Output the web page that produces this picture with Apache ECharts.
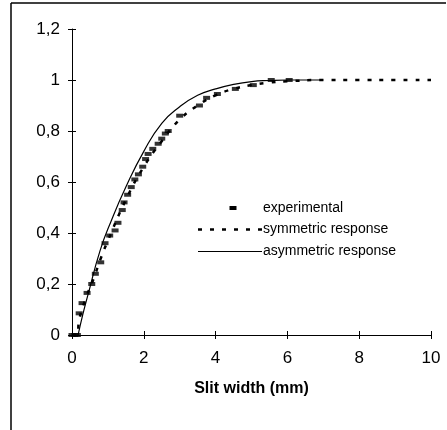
<!DOCTYPE html>
<html>
<head>
<meta charset="utf-8">
<script src="https://cdn.jsdelivr.net/npm/echarts@6/dist/echarts.min.js"></script>
<style>html,body{margin:0;padding:0;background:#fff;}#c{width:447px;height:430px;}</style>
</head>
<body>
<div id="c"></div>
<script>
var xTicks = [0, 2, 4, 6, 8, 10];
var yTicks = [0, 0.2, 0.4, 0.6, 0.8, 1, 1.2];

var experimental = [
  [0, 0], [0.08, 0], [0.15, 0], [0.2, 0.085], [0.28, 0.125], [0.42, 0.165], [0.55, 0.2],
  [0.65, 0.24], [0.8, 0.285], [0.92, 0.36], [1.05, 0.39], [1.2, 0.41], [1.28, 0.44],
  [1.4, 0.49], [1.45, 0.52], [1.55, 0.55], [1.65, 0.58], [1.75, 0.61], [1.85, 0.63],
  [1.97, 0.66], [2.05, 0.69], [2.12, 0.71], [2.25, 0.73], [2.4, 0.75], [2.5, 0.77],
  [2.6, 0.79], [2.68, 0.8], [3.0, 0.86], [3.55, 0.9], [3.75, 0.93], [4.05, 0.945],
  [4.55, 0.965], [5.05, 0.98], [5.55, 1.0], [6.05, 1.0]
];

var symmetric = [
  [0, 0], [0.15, 0], [0.2, 0.06], [0.4, 0.15], [0.6, 0.22], [0.8, 0.3], [1.0, 0.37],
  [1.5, 0.53], [2.0, 0.66], [2.5, 0.76], [3.0, 0.845], [3.5, 0.9], [4.0, 0.94],
  [4.5, 0.965], [5.0, 0.98], [5.5, 0.99], [6.0, 0.995], [7, 1], [8, 1], [9, 1], [10, 1]
];

var asymmetric = [
  [0.17, 0], [0.3, 0.08], [0.45, 0.16], [0.78, 0.33], [1.1, 0.45], [1.5, 0.58],
  [2.0, 0.72], [2.5, 0.83], [3.0, 0.895], [3.5, 0.94], [4.0, 0.965], [4.5, 0.983],
  [5.0, 0.994], [5.5, 0.998], [6, 1], [7, 1]
];

var legendNames = ['experimental', 'symmetric response', 'asymmetric response'];

var FONT = '"Liberation Sans", Arial, sans-serif';
var chart = echarts.init(document.getElementById('c'), null, {renderer: 'canvas'});

function fmtY(v) { return String(Math.round(v * 10) / 10).replace('.', ','); }

var option = {
  animation: false,
  backgroundColor: '#fff',
  grid: {left: 72, right: 16, top: 29, bottom: 95, containLabel: false},
  xAxis: [
    {
      type: 'value', min: xTicks[0], max: xTicks[xTicks.length - 1], interval: 2,
      name: 'Slit width (mm)', nameLocation: 'middle', nameGap: 46,
      nameTextStyle: {fontFamily: FONT, fontSize: 16, fontWeight: 'bold', color: '#000'},
      axisLine: {show: true, lineStyle: {color: '#000', width: 1}},
      axisTick: {show: true, inside: false, length: 4, lineStyle: {color: '#000'}},
      axisLabel: {fontFamily: FONT, fontSize: 17, color: '#000', margin: 15},
      splitLine: {show: false}
    },
    {
      type: 'value', min: xTicks[0], max: xTicks[xTicks.length - 1], interval: 2,
      position: 'bottom', gridIndex: 0,
      axisLine: {show: false},
      axisTick: {show: true, inside: true, length: 4, lineStyle: {color: '#000'}},
      axisLabel: {show: false}, splitLine: {show: false}
    }
  ],
  yAxis: [
    {
      type: 'value', min: yTicks[0], max: yTicks[yTicks.length - 1], interval: 0.2,
      axisLine: {show: true, lineStyle: {color: '#000', width: 1}},
      axisTick: {show: true, inside: false, length: 4, lineStyle: {color: '#000'}},
      axisLabel: {fontFamily: FONT, fontSize: 17, color: '#000', margin: 12, formatter: fmtY},
      splitLine: {show: false}
    },
    {
      type: 'value', min: yTicks[0], max: yTicks[yTicks.length - 1], interval: 0.2,
      position: 'left',
      axisLine: {show: false},
      axisTick: {show: true, inside: true, length: 4, lineStyle: {color: '#000'}},
      axisLabel: {show: false}, splitLine: {show: false}
    }
  ],
  series: [
    {
      name: legendNames[1], type: 'line', data: symmetric, smooth: true, showSymbol: false,
      lineStyle: {color: '#000', width: 2.5, type: [4, 8]}, z: 2
    },
    {
      name: legendNames[2], type: 'line', data: asymmetric, smooth: true, showSymbol: false,
      lineStyle: {color: '#000', width: 1.2}, z: 3
    },
    {
      name: legendNames[0], type: 'scatter', data: experimental,
      symbol: 'rect', symbolSize: [7, 4], itemStyle: {color: '#000'}, z: 4
    }
  ],
  graphic: [
    {type: 'line', shape: {x1: 11, y1: 3, x2: 446, y2: 3}, style: {stroke: '#000', lineWidth: 1.5}},
    {type: 'line', shape: {x1: 11, y1: 3, x2: 11, y2: 430}, style: {stroke: '#000', lineWidth: 1.5}},
    {type: 'rect', shape: {x: 229.5, y: 206, width: 7, height: 4}, style: {fill: '#000'}},
    {type: 'text', x: 263, y: 208, style: {text: legendNames[0], font: '14px ' + FONT, fill: '#000', verticalAlign: 'middle'}},
    {type: 'line', shape: {x1: 198, y1: 229.5, x2: 262, y2: 229.5}, style: {stroke: '#000', lineWidth: 2.5, lineDash: [4, 8]}},
    {type: 'text', x: 263, y: 229, style: {text: legendNames[1], font: '14px ' + FONT, fill: '#000', verticalAlign: 'middle'}},
    {type: 'line', shape: {x1: 198, y1: 251.5, x2: 262, y2: 251.5}, style: {stroke: '#000', lineWidth: 1.2}},
    {type: 'text', x: 263, y: 251, style: {text: legendNames[2], font: '14px ' + FONT, fill: '#000', verticalAlign: 'middle'}}
  ]
};
chart.setOption(option);
</script>
</body>
</html>
